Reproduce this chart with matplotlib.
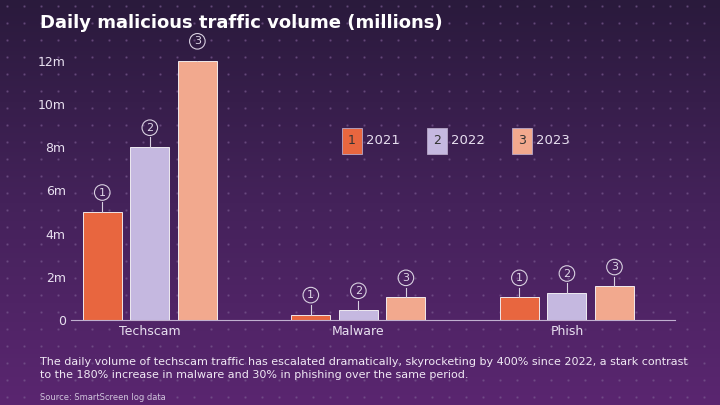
import matplotlib
matplotlib.use("Agg")
import matplotlib.pyplot as plt
import numpy as np
from matplotlib.colors import LinearSegmentedColormap

categories = ["Techscam", "Malware", "Phish"]
years = ["2021", "2022", "2023"]
values = {"2021": [5.0, 0.25, 1.05], "2022": [8.0, 0.45, 1.25], "2023": [12.0, 1.05, 1.55]}
colors = ["#e8663f", "#c5b8e0", "#f2a98e"]
yticks = [0, 2, 4, 6, 8, 10, 12]
ytick_labels = ["0", "2m", "4m", "6m", "8m", "10m", "12m"]

fig = plt.figure(figsize=(7.2, 4.05), dpi=100)
bg = fig.add_axes([0, 0, 1, 1])
grad = np.linspace(0, 1, 256)[:, None]
cmap = LinearSegmentedColormap.from_list("bg", ["#2a1a3c", "#44225a", "#5a2670"])
bg.imshow(grad, aspect="auto", cmap=cmap, extent=[0, 1, 0, 1], origin="upper")
xs, ys = np.meshgrid(np.arange(0.01, 1, 0.0236), np.arange(0.02, 1, 0.042))
bg.scatter(xs.ravel(), ys.ravel(), s=0.6, color="#7a5a90", alpha=0.5)
bg.set_xlim(0, 1); bg.set_ylim(0, 1); bg.axis("off")

ax = fig.add_axes([0.098, 0.21, 0.84, 0.64])
ax.patch.set_alpha(0)
x = np.arange(len(categories))
w = 0.187
gap = 0.228
for i, yr in enumerate(years):
    pos = x + (i - 1) * gap
    ax.bar(pos, values[yr], width=w, color=colors[i], edgecolor="#ffffff", linewidth=0.6)
    for p, v in zip(pos, values[yr]):
        ax.plot([p, p], [v, v + 0.45], color="#d8d0e0", lw=0.8)
        ax.text(p, v + 0.9, str(i + 1), ha="center", va="center", color="#e0d8e8", fontsize=8,
                bbox=dict(boxstyle="circle,pad=0.25", fc="none", ec="#d8d0e0", lw=0.8))
ax.set_ylim(0, 12)
ax.set_xlim(-0.38, 2.52)
ax.set_yticks(yticks)
ax.set_yticklabels(ytick_labels)
ax.set_xticks(x)
ax.set_xticklabels(categories)
ax.tick_params(colors="#e8e0f0", labelsize=9, length=0)
for s in ["top", "right", "left"]:
    ax.spines[s].set_visible(False)
ax.spines["bottom"].set_color("#c0b0d0")

for i, yr in enumerate(years):
    lx = 0.489 + i * 0.118
    fig.text(lx, 0.652, str(i + 1), ha="center", va="center", fontsize=9, color="#333333",
             bbox=dict(boxstyle="square,pad=0.5", fc=colors[i], ec="#b8a8c8", lw=0.6))
    fig.text(lx + 0.043, 0.652, yr, ha="center", va="center", fontsize=9.5, color="#e8e0f0")

fig.text(0.055, 0.965, "Daily malicious traffic volume (millions)", fontsize=13, fontweight="bold",
         color="#ffffff", va="top")
fig.text(0.055, 0.118, "The daily volume of techscam traffic has escalated dramatically, skyrocketing by 400% since 2022, a stark contrast\nto the 180% increase in malware and 30% in phishing over the same period.",
         fontsize=8, color="#f0e8f4", va="top", linespacing=1.35)
fig.text(0.055, 0.008, "Source: SmartScreen log data", fontsize=6, color="#d0c4dc", va="bottom")
fig.savefig("out.png", dpi=100)
